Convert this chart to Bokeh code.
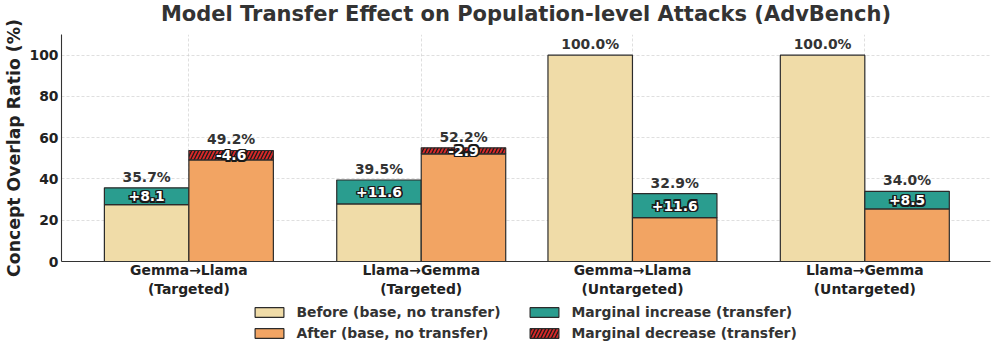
import numpy as np
from bokeh.plotting import figure
from bokeh.layouts import column
from bokeh.models import (ColumnDataSource, Range1d, FixedTicker, Legend, LegendItem)
from bokeh.core.properties import value
from bokeh.embed import file_html
from bokeh.resources import INLINE

# ---------------- data ----------------
categories = ["Gemma→Llama\n(Targeted)", "Llama→Gemma\n(Targeted)",
              "Gemma→Llama\n(Untargeted)", "Llama→Gemma\n(Untargeted)"]
group_pos = [0.0, 1.1, 2.1, 3.2]
before_vals = [35.7, 39.5, 100.0, 100.0]
before_delta = [8.1, 11.6, 0.0, 0.0]
after_vals = [49.2, 52.2, 32.9, 34.0]
after_delta = [-4.6, -2.9, 11.6, 8.5]
y_ticks = [0, 20, 40, 60, 80, 100]
legend_labels = ["Before (base, no transfer)", "After (base, no transfer)",
                 "Marginal increase (transfer)", "Marginal decrease (transfer)"]

# ---------------- style ----------------
FONT = "DejaVu Sans"
BAR_W = 0.4
C_BEFORE = "#F0DCA8"
C_AFTER = "#F2A463"
C_INC = "#2A9D8F"
C_DEC = "#D62828"
EDGE = "#2b2b2b"
TXT = "#333333"
HATCH = dict(hatch_pattern="/", hatch_color="#1a1a1a", hatch_scale=7, hatch_weight=1.3)

pos = np.array(group_pos)
bv = np.array(before_vals)
bd = np.array(before_delta)
av = np.array(after_vals)
ad = np.array(after_delta)

x_before = pos - BAR_W / 2
x_after = pos + BAR_W / 2

before_base = bv - bd
after_base = np.where(ad > 0, av - ad, av)
after_top = np.where(ad > 0, av, av - ad)

W = 994
SHIFT = 11           # main figure pulled up by this many px
H_MAIN = 299 + SHIFT
H_LEG = 51
FRAME_L = 61
p = figure(width=W, height=H_MAIN, output_backend="svg", toolbar_location=None,
           x_range=Range1d(-0.603, 3.795), y_range=Range1d(0, 110),
           min_border_left=FRAME_L, min_border_right=4, min_border_top=34 + SHIFT,
           min_border_bottom=H_MAIN - (262 + SHIFT),
           title="Model Transfer Effect on Population-level Attacks (AdvBench)")
p.margin = (-SHIFT, 0, 0, 0)
p.outline_line_color = None
p.background_fill_color = "white"
p.title.align = "center"
p.title.text_font = FONT
p.title.text_font_style = "bold"
p.title.text_font_size = "21px"
p.title.text_color = TXT
p.title.standoff = 18

# grids
for g in (p.xgrid, p.ygrid):
    g.grid_line_color = "#cccccc"
    g.grid_line_dash = "3 2"
    g.grid_line_width = 0.8
    g.grid_line_alpha = 0.8
p.xgrid.ticker = FixedTicker(ticks=list(group_pos))
p.ygrid.ticker = FixedTicker(ticks=y_ticks)

# bars
src_before = ColumnDataSource(dict(x=x_before, top=before_base))
p.vbar(x="x", width=BAR_W, bottom=0, top="top", source=src_before,
       fill_color=C_BEFORE, line_color=EDGE, line_width=1.2)

inc_mask_b = bd > 0
src_inc_b = ColumnDataSource(dict(x=x_before[inc_mask_b], bottom=before_base[inc_mask_b],
                                  top=bv[inc_mask_b]))
p.vbar(x="x", width=BAR_W, bottom="bottom", top="top", source=src_inc_b,
       fill_color=C_INC, line_color=EDGE, line_width=1.2)

src_after = ColumnDataSource(dict(x=x_after, top=after_base))
p.vbar(x="x", width=BAR_W, bottom=0, top="top", source=src_after,
       fill_color=C_AFTER, line_color=EDGE, line_width=1.2)

inc_mask_a = ad > 0
src_inc_a = ColumnDataSource(dict(x=x_after[inc_mask_a], bottom=after_base[inc_mask_a],
                                  top=after_top[inc_mask_a]))
p.vbar(x="x", width=BAR_W, bottom="bottom", top="top", source=src_inc_a,
       fill_color=C_INC, line_color=EDGE, line_width=1.2)

dec_mask_a = ad < 0
src_dec_a = ColumnDataSource(dict(x=x_after[dec_mask_a], bottom=after_base[dec_mask_a],
                                  top=after_top[dec_mask_a]))
p.vbar(x="x", width=BAR_W, bottom="bottom", top="top", source=src_dec_a,
       fill_color=C_DEC, line_color=EDGE, line_width=1.2, **HATCH)

# total labels
lab_x = np.concatenate([x_before, x_after])
lab_y = np.concatenate([bv, after_top])
lab_t = [f"{v:.1f}%" for v in np.concatenate([bv, av])]
p.text(x=lab_x, y=lab_y, text=lab_t, text_align="center", text_baseline="bottom",
       y_offset=-3, text_font=value(FONT), text_font_style="bold",
       text_font_size="13.9px", text_color=TXT)

# delta labels (white text with dark halo)
d_x, d_y, d_t = [], [], []
for i in range(len(pos)):
    if bd[i] != 0:
        d_x.append(x_before[i]); d_y.append(before_base[i] + bd[i] / 2)
        d_t.append(f"{bd[i]:+.1f}")
    if ad[i] != 0:
        d_x.append(x_after[i]); d_y.append((after_base[i] + after_top[i]) / 2)
        d_t.append(f"{ad[i]:+.1f}")
src_d = ColumnDataSource(dict(x=d_x, y=d_y, t=d_t))
halo = 1.4
for dx, dy in [(-halo, 0), (halo, 0), (0, -halo), (0, halo),
               (-halo, -halo), (halo, halo), (-halo, halo), (halo, -halo)]:
    p.text(x="x", y="y", text="t", source=src_d, x_offset=dx, y_offset=dy,
           text_align="center", text_baseline="middle",
           text_font=value(FONT), text_font_style="bold", text_font_size="13.9px",
           text_color="#1a1a1a")
p.text(x="x", y="y", text="t", source=src_d, text_align="center",
       text_baseline="middle", text_font=value(FONT), text_font_style="bold",
       text_font_size="13.9px", text_color="white")

# axes
p.xaxis.ticker = FixedTicker(ticks=list(group_pos))
p.xaxis.major_label_overrides = {float(k): v for k, v in zip(group_pos, categories)}
p.yaxis.ticker = FixedTicker(ticks=y_ticks)
for ax in (p.xaxis, p.yaxis):
    ax.axis_line_color = "#333333"
    ax.axis_line_width = 1.1
    ax.major_tick_out = 0
    ax.major_tick_in = 0
    ax.minor_tick_out = 0
    ax.minor_tick_in = 0
    ax.major_label_text_font = FONT
    ax.major_label_text_font_style = "bold"
    ax.major_label_text_color = "#222222"
    ax.major_label_text_font_size = "13.9px"
p.xaxis.major_label_standoff = 0
p.yaxis.major_label_standoff = 3
p.yaxis.axis_label = "Concept Overlap Ratio (%)"
p.yaxis.axis_label_text_font = FONT
p.yaxis.axis_label_text_font_style = "bold"
p.yaxis.axis_label_text_font_size = "17.3px"
p.yaxis.axis_label_text_color = "#222222"
p.yaxis.axis_label_standoff = 3

# legend strip (separate figure so it sits below the axis)
pl = figure(width=W, height=H_LEG, output_backend="svg", toolbar_location=None,
            x_range=Range1d(0, 1), y_range=Range1d(0, 1),
            x_axis_location=None, y_axis_location=None,
            min_border_left=0, min_border_right=0, min_border_top=0,
            min_border_bottom=0)
pl.outline_line_color = None
pl.grid.visible = False
leg_styles = [dict(fill_color=C_BEFORE), dict(fill_color=C_AFTER),
              dict(fill_color=C_INC), dict(fill_color=C_DEC, **HATCH)]
leg_items = []
# proxy glyphs for the legend swatches; they sit outside the strip's visible range
proxy = ColumnDataSource(dict(x=[5.0], top=[0.0]))
for lbl, st in zip(legend_labels, leg_styles):
    r = pl.vbar(x="x", top="top", bottom=0, width=0.1, source=proxy,
                line_color=EDGE, line_width=1.2, **st)
    leg_items.append(LegendItem(label=lbl, renderers=[r]))
legend = Legend(items=leg_items, location=(251.4 - FRAME_L, 9), orientation="vertical",
                ncols=2, border_line_color=None, background_fill_alpha=0,
                padding=0, margin=0, spacing=4, glyph_width=36, glyph_height=12,
                label_height=17, label_width=226, label_standoff=9,
                label_text_font=FONT, label_text_font_style="bold",
                label_text_font_size="13.9px", label_text_color=TXT)
pl.add_layout(legend)

layout = column(p, pl, spacing=0)
open("out.html", "w").write(file_html(layout, INLINE))
